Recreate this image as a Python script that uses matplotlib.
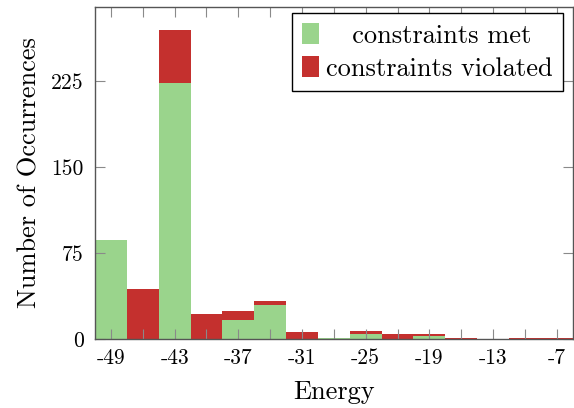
import numpy as np
import matplotlib
import matplotlib.pyplot as plt

matplotlib.use('Agg')

# Histogram data (bin centres, bin width 3)
energy_bins = [-49, -46, -43, -40, -37, -34, -31, -28, -25, -22, -19, -16, -13, -10, -7]
met_counts = [86, 0, 223, 0, 17, 30, 0, 1, 4, 0, 3, 0, 0, 0, 0]
violated_counts = [0, 44, 47, 22, 7, 3, 6, 0, 3, 4, 1, 1, 0, 1, 1]

x_tick_values = [-49, -43, -37, -31, -25, -19, -13, -7]
x_tick_labels = ['-49', '-43', '-37', '-31', '-25', '-19', '-13', '-7']
y_tick_values = [0, 75, 150, 225]
y_tick_labels = ['0', '75', '150', '225']

plt.rcParams['font.family'] = 'cmr10'
plt.rcParams['mathtext.fontset'] = 'cm'
plt.rcParams['axes.unicode_minus'] = False

green = '#9ad48c'
red = '#c4302e'
bin_width = 3

fig = plt.figure(figsize=(5.74, 4.08), dpi=100)
ax = fig.add_axes([95 / 574, 69 / 408, 477.7 / 574, 332.3 / 408])

ax.bar(energy_bins, met_counts, width=bin_width, color=green,
       linewidth=0, label='constraints met')
ax.bar(energy_bins, violated_counts, width=bin_width, bottom=met_counts,
       color=red, linewidth=0, label='constraints violated')

ax.set_xlim(energy_bins[0] - bin_width / 2, energy_bins[-1] + bin_width / 2)
ax.set_ylim(0, 290)

# every bin centre gets a tick, only every second one a label
ax.set_xticks(energy_bins, minor=True)
ax.set_xticks(x_tick_values, x_tick_labels)
ax.set_yticks(y_tick_values, y_tick_labels)

ax.tick_params(axis='both', which='both', direction='in', length=7.5,
               width=0.8, color='#8a8a8a', top=True, right=True,
               labelsize=15.5)
ax.tick_params(axis='x', which='major', pad=7)
ax.tick_params(axis='y', which='major', pad=8)
for spine in ax.spines.values():
    spine.set_color('#555555')
    spine.set_linewidth(1.0)

ax.set_xlabel('Energy', fontsize=19, labelpad=9)
ax.set_ylabel('Number of Occurrences', fontsize=19, labelpad=7)

handles, labels = ax.get_legend_handles_labels()
labels[0] = '   ' + labels[0]
leg = ax.legend(handles, labels, loc='upper right',
                bbox_to_anchor=(0.979, 0.98), borderaxespad=0,
                fontsize=19, fancybox=False, framealpha=1,
                handlelength=0.65, handleheight=0.85, handletextpad=0.25,
                labelspacing=0.3, borderpad=0.38)
leg.get_frame().set_edgecolor('black')
leg.get_frame().set_linewidth(1.0)

fig.savefig('out.png', dpi=100)
